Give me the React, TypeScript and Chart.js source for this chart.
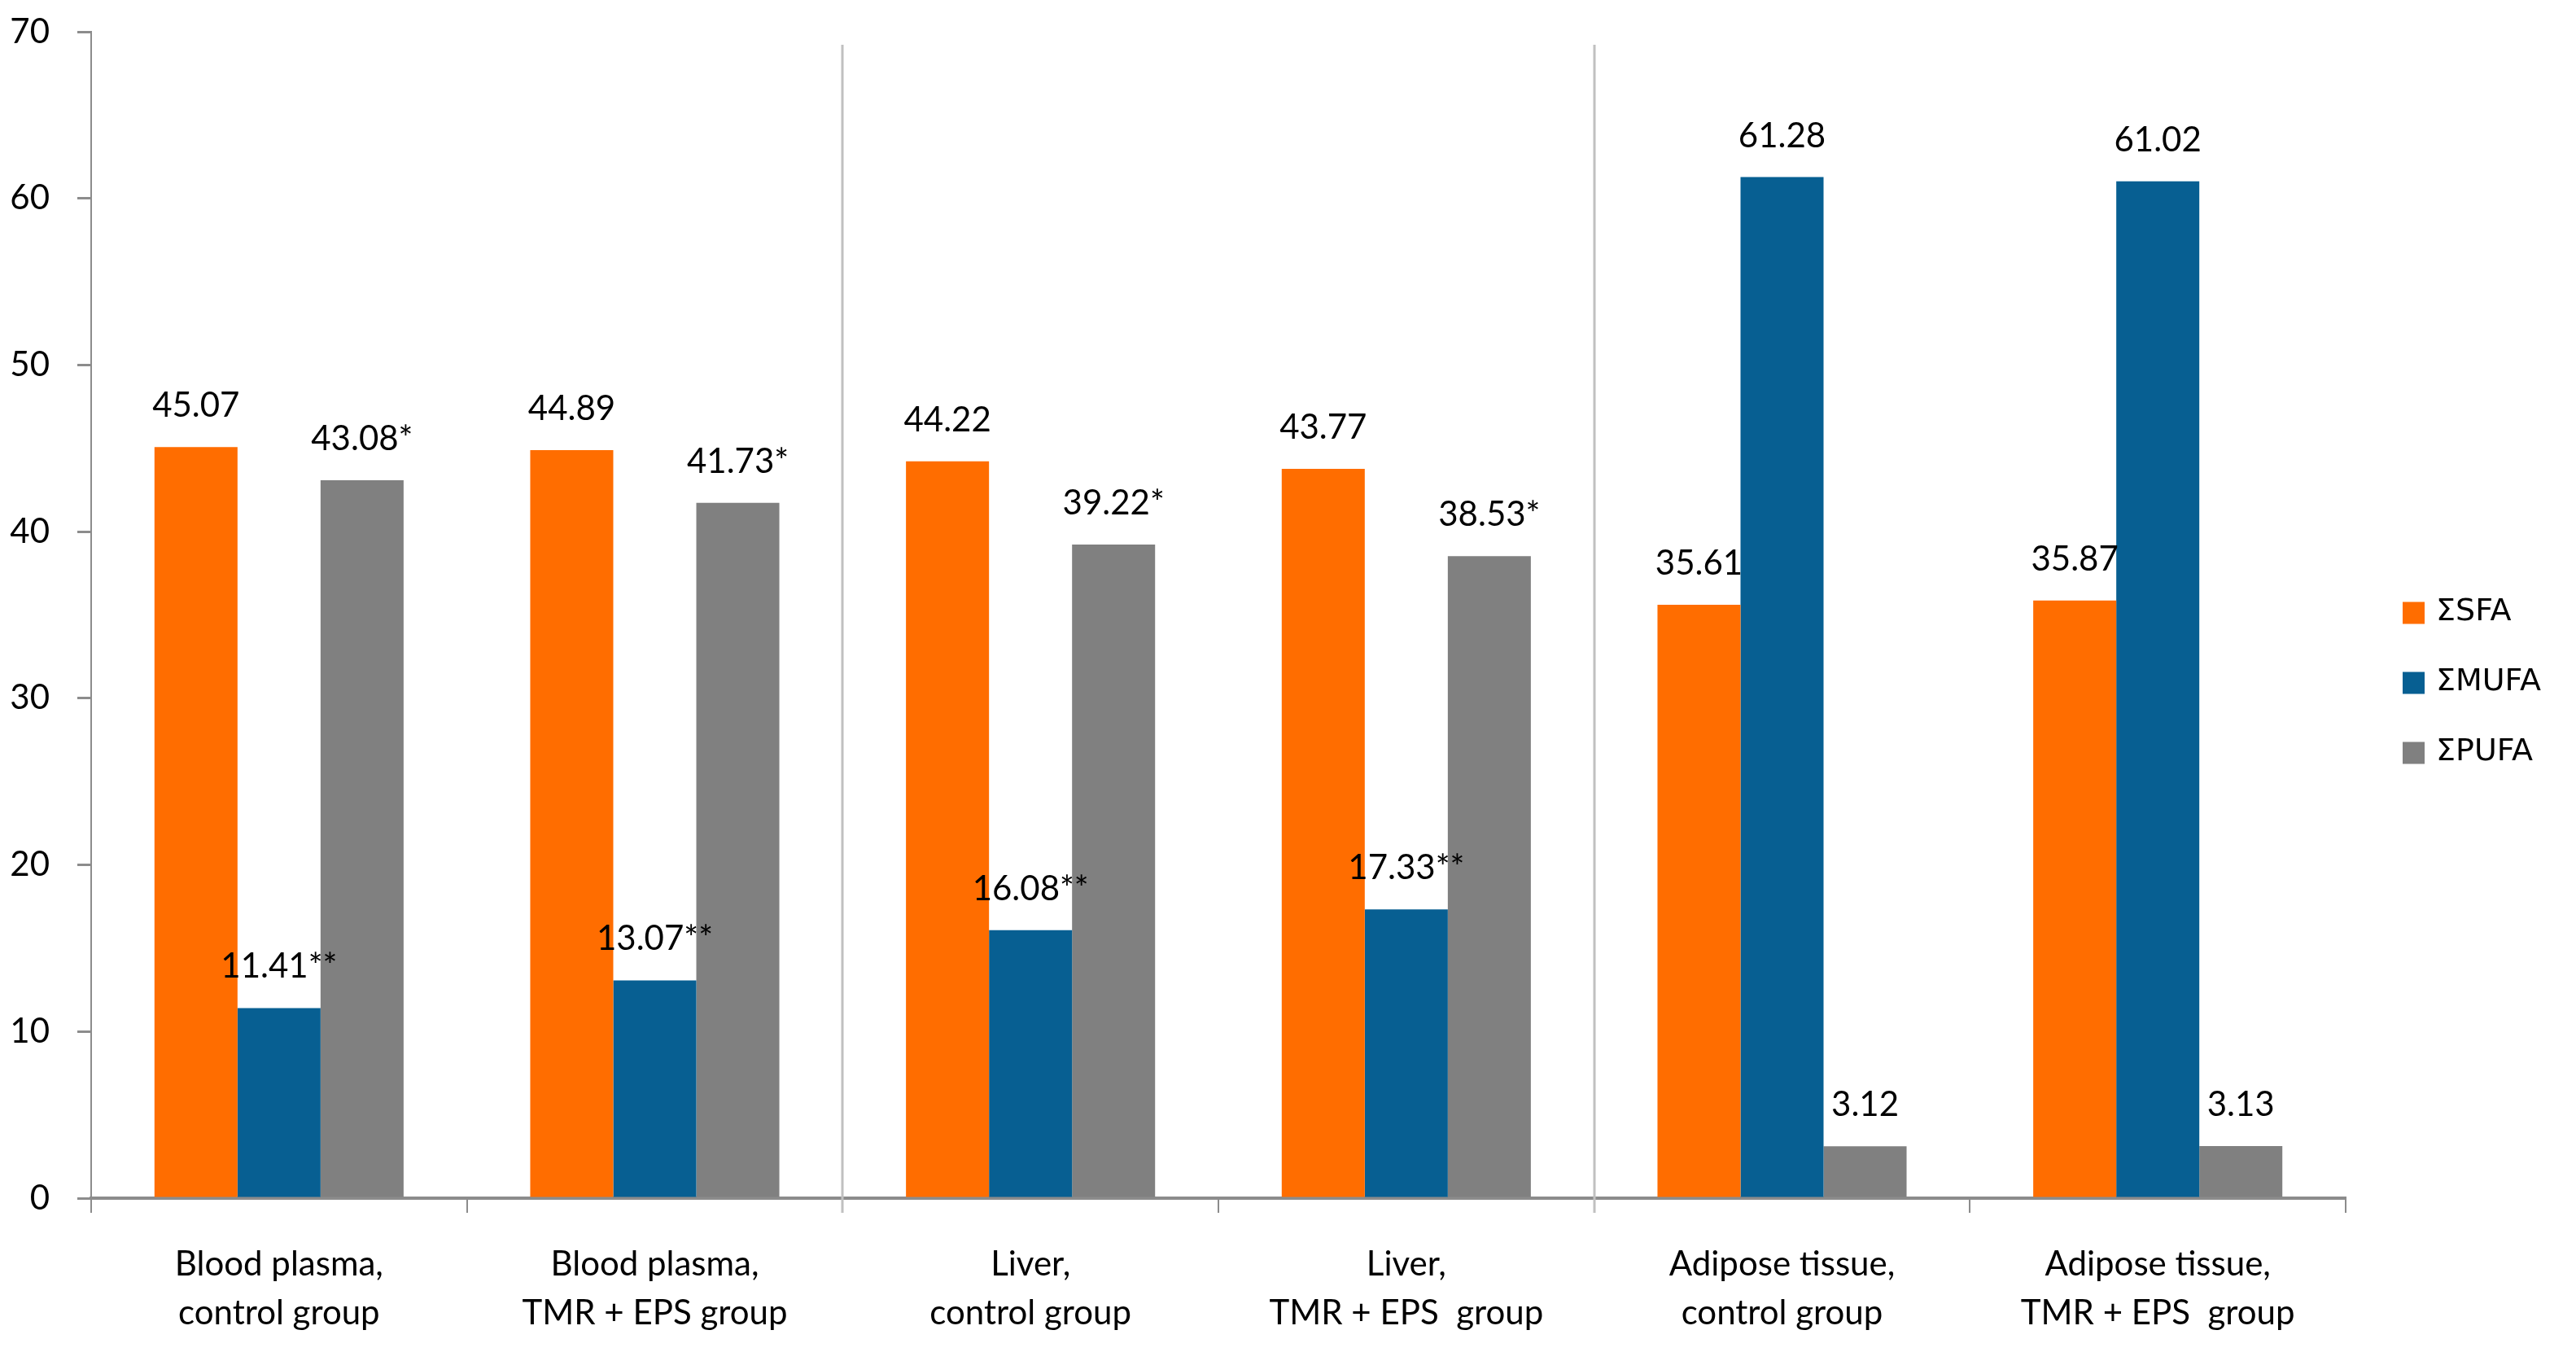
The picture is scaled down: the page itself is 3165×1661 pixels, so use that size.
import React, { useEffect, useRef } from 'react';
import { Chart, registerables } from 'chart.js';

Chart.register(...registerables);

const categories: string[][] = [
  ['Blood plasma,', 'control group'],
  ['Blood plasma,', 'TMR + EPS group'],
  ['Liver,', 'control group'],
  ['Liver,', 'TMR + EPS  group'],
  ['Adipose tissue,', 'control group'],
  ['Adipose tissue,', 'TMR + EPS  group'],
];
const seriesNames = ['ΣSFA', 'ΣMUFA', 'ΣPUFA'];
const sfaValues = [45.07, 44.89, 44.22, 43.77, 35.61, 35.87];
const mufaValues = [11.41, 13.07, 16.08, 17.33, 61.28, 61.02];
const pufaValues = [43.08, 41.73, 39.22, 38.53, 3.12, 3.13];
const sfaMarks = ['', '', '', '', '', ''];
const mufaMarks = ['**', '**', '**', '**', '', ''];
const pufaMarks = ['*', '*', '*', '*', '', ''];
const yMin = 0;
const yMax = 70;
const yStep = 10;
const separatorsAfter = [1, 3];

const seriesColors = ['#FF6D00', '#075F92', '#808080'];
const FONT = 'Lato, "Open Sans", sans-serif';
const LEGEND_FONT = '"DejaVu Sans", Verdana, sans-serif';

const separatorPlugin = {
  id: 'separators',
  beforeDatasetsDraw(chart: any) {
    const { ctx, chartArea, scales } = chart;
    const xs = scales.x;
    ctx.save();
    ctx.strokeStyle = '#C0C0C0';
    ctx.lineWidth = 3;
    separatorsAfter.forEach((i) => {
      const x = Math.round((xs.getPixelForValue(i) + xs.getPixelForValue(i + 1)) / 2);
      ctx.beginPath();
      ctx.moveTo(x, chartArea.top + 16);
      ctx.lineTo(x, chartArea.bottom + 18);
      ctx.stroke();
    });
    ctx.restore();
  },
};

const labelPlugin = {
  id: 'valueLabels',
  afterDatasetsDraw(chart: any) {
    const { ctx } = chart;
    ctx.save();
    ctx.font = `42px ${FONT}`;
    ctx.fillStyle = '#000000';
    ctx.textAlign = 'center';
    ctx.textBaseline = 'alphabetic';
    chart.data.datasets.forEach((ds: any, di: number) => {
      const meta = chart.getDatasetMeta(di);
      meta.data.forEach((bar: any, i: number) => {
        const txt = (ds.data[i] as number).toFixed(2) + (ds.marks[i] || '');
        ctx.fillText(txt, bar.x, bar.y - 37);
      });
    });
    ctx.restore();
  },
};

const legendPlugin = {
  id: 'customLegend',
  afterDraw(chart: any) {
    const { ctx, chartArea, height } = chart;
    const x0 = chartArea.right + 70;
    const cy = height / 2 + 8;
    const gap = 86;
    ctx.save();
    ctx.font = `38px ${LEGEND_FONT}`;
    ctx.textBaseline = 'middle';
    ctx.textAlign = 'left';
    chart.data.datasets.forEach((ds: any, i: number) => {
      const y = cy + (i - 1) * gap;
      ctx.fillStyle = ds.backgroundColor;
      ctx.fillRect(x0, y - 13, 27, 27);
      ctx.fillStyle = '#000000';
      ctx.fillText(ds.label, x0 + 41, y);
    });
    ctx.restore();
  },
};

export default function App() {
  const canvasRef = useRef<HTMLCanvasElement | null>(null);

  useEffect(() => {
    document.body.style.margin = '0';
    const canvas = canvasRef.current;
    if (!canvas) return;
    const allValues = [sfaValues, mufaValues, pufaValues];
    const allMarks = [sfaMarks, mufaMarks, pufaMarks];
    const chart = new Chart(canvas, {
      type: 'bar',
      data: {
        labels: categories,
        datasets: seriesNames.map((name, i) => ({
          label: name,
          data: allValues[i],
          marks: allMarks[i],
          backgroundColor: seriesColors[i],
          borderWidth: 0,
          categoryPercentage: 0.663,
          barPercentage: 1.0,
        })) as any,
      },
      options: {
        animation: false,
        responsive: false,
        maintainAspectRatio: false,
        layout: { padding: { top: 39, right: 283, bottom: 0, left: 0 } },
        plugins: {
          legend: { display: false },
          tooltip: { enabled: false },
          title: { display: false },
        },
        scales: {
          x: {
            type: 'category',
            offset: true,
            grid: {
              display: true,
              drawOnChartArea: false,
              drawTicks: true,
              tickLength: 18,
              color: '#8C8C8C',
              lineWidth: 2,
              offset: true,
            },
            border: { display: true, color: '#8C8C8C', width: 4 },
            ticks: {
              color: '#000000',
              font: { family: FONT, size: 42, lineHeight: 1.43 },
              padding: 33,
              maxRotation: 0,
              minRotation: 0,
              autoSkip: false,
            },
            afterFit(scale: any) {
              scale.height = 189;
              scale.paddingLeft = 0;
              scale.paddingRight = 0;
            },
          },
          y: {
            type: 'linear',
            min: yMin,
            max: yMax,
            ticks: {
              stepSize: yStep,
              color: '#000000',
              font: { family: FONT, size: 42 },
              padding: 34,
            },
            grid: {
              display: true,
              drawOnChartArea: false,
              drawTicks: true,
              tickLength: 17,
              color: '#8C8C8C',
              lineWidth: 3,
            },
            border: { display: true, color: '#8C8C8C', width: 2 },
            afterFit(scale: any) {
              scale.width = 112;
              scale.paddingTop = 0;
              scale.paddingBottom = 0;
            },
          },
        },
      } as any,
      plugins: [separatorPlugin, labelPlugin, legendPlugin],
    });
    return () => {
      chart.destroy();
    };
  }, []);

  return (
    <div style={{ width: 3165, height: 1661, position: 'relative', background: '#ffffff' }}>
      <canvas ref={canvasRef} width={3165} height={1661} style={{ display: 'block' }} />
    </div>
  );
}
